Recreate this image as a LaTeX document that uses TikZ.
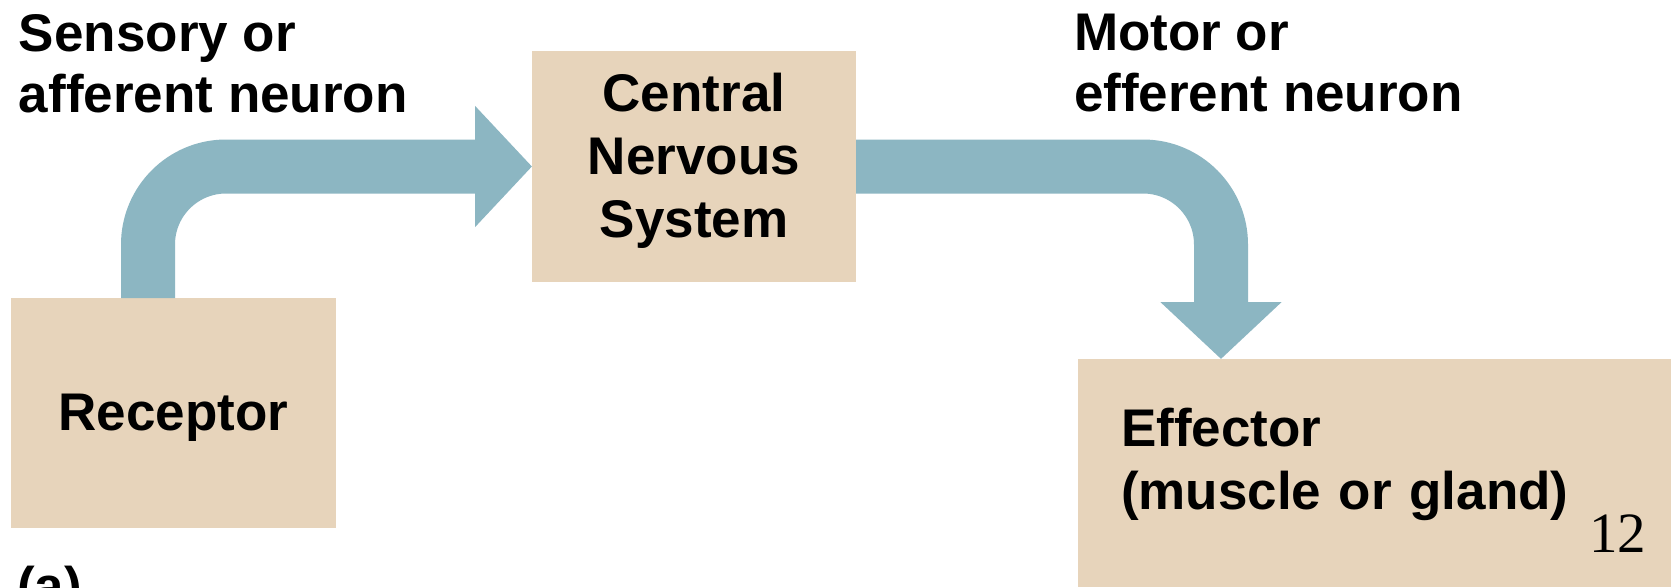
\documentclass[tikz,border=0pt]{standalone}
\usepackage{fontspec}
\setmainfont{Liberation Sans}
\newfontfamily\numfont{Liberation Serif}
\usetikzlibrary{arrows.meta}
\definecolor{boxtan}{HTML}{E7D4BB}
\definecolor{nerveblue}{HTML}{8CB6C2}
\begin{document}
\begin{tikzpicture}[x=1pt,y=-1pt,
  lbl/.style={font=\fontsize{53}{61}\selectfont\bfseries, inner sep=0pt, outer sep=0pt, align=left},
  boxtext/.style={font=\fontsize{53}{63}\selectfont\bfseries, inner sep=0pt, outer sep=0pt, align=center},
  box/.style={fill=boxtan, draw=none, inner sep=0pt, outer sep=0pt},
  nerve/.style={draw=nerveblue, line width=54pt, rounded corners=78pt, -{Triangle[length=57pt,width=118pt]}}]
\clip (0,0) rectangle (1671,587);
\fill[white] (0,0) rectangle (1671,587);
% boxes
\path node[box, minimum width=325pt, minimum height=230pt,
  label={[boxtext, yshift=-5pt]center:Receptor}] (rec) at (173.5,413) {};
\path node[box, minimum width=324pt, minimum height=231pt,
  label={[boxtext, yshift=5.5pt]center:Central\\Nervous\\System}] (cns) at (694,166.5) {};
\path node[box, minimum width=597pt, minimum height=228pt,
  label={[boxtext, align=left, text width=511pt, yshift=9pt]center:Effector\\(muscle or gland)}] (eff) at (1376.5,473) {};
% connectors
\draw[nerve] ([xshift=-25.5pt]rec.north) |- (cns.west);
\draw[nerve] (cns.east) -| ([xshift=-155.5pt]eff.north);
% labels
\node[lbl, anchor=north west] (sens) at (19,14) {Sensory or\\afferent neuron};
\node[lbl, anchor=north west] (mot) at (1074,14) {Motor or\\efferent neuron};
\node[font=\numfont\fontsize{57}{57}\selectfont, anchor=base west, inner sep=0pt] (pg) at (1589,552) {12};
\node[lbl, anchor=base west] (cap) at (17,604) {(a)};
\end{tikzpicture}
\end{document}
